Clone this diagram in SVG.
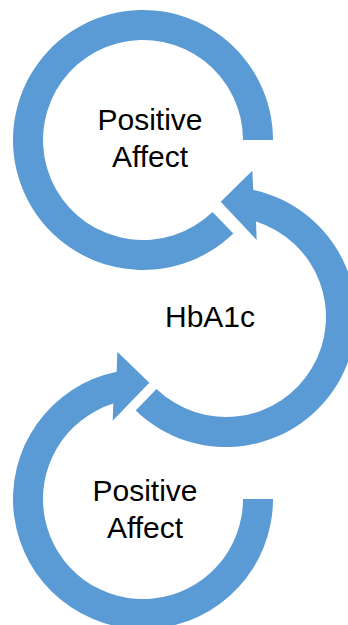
<svg xmlns="http://www.w3.org/2000/svg" width="348" height="625" viewBox="0 0 348 625">
  <style>
    .ring { fill: #5B9BD5; stroke: none; }
    .label { font-family: "Liberation Sans", Arial, sans-serif; font-size: 30px; fill: #000000; text-anchor: middle; }
  </style>
  <rect width="348" height="625" fill="#FFFFFF"/>

  <!-- Top ring: open circular band, no arrowhead -->
  <g id="node-positive-affect-top">
    <path class="ring" d="M273,140 A130,130 0 1,0 233.3,233.5 L212.5,211.9 A100,100 0 1,1 243,140 Z"/>
    <text class="label" x="150" y="129.5">Positive</text>
    <text class="label" x="150" y="166.5">Affect</text>
  </g>

  <!-- Middle ring: arrowhead at the top pointing left -->
  <g id="node-hba1c">
    <path class="ring" d="M135.7,410.5 A130,130 0 1,0 253.3,189.9 L252.3,170.7 L220.7,201.7 L256.7,240 L256,221.6 A100,100 0 1,1 156.5,388.9 Z"/>
    <text class="label" x="210" y="327">HbA1c</text>
  </g>

  <!-- Bottom ring: arrowhead at the top pointing right -->
  <g id="node-positive-affect-bottom">
    <path class="ring" d="M273,499 A130,130 0 1,1 116.7,371.7 L117.3,351.7 L149.3,382.7 L112.7,420.7 L113.3,403.6 A100,100 0 1,0 243,499 Z"/>
    <text class="label" x="145" y="501">Positive</text>
    <text class="label" x="145" y="538">Affect</text>
  </g>
</svg>
